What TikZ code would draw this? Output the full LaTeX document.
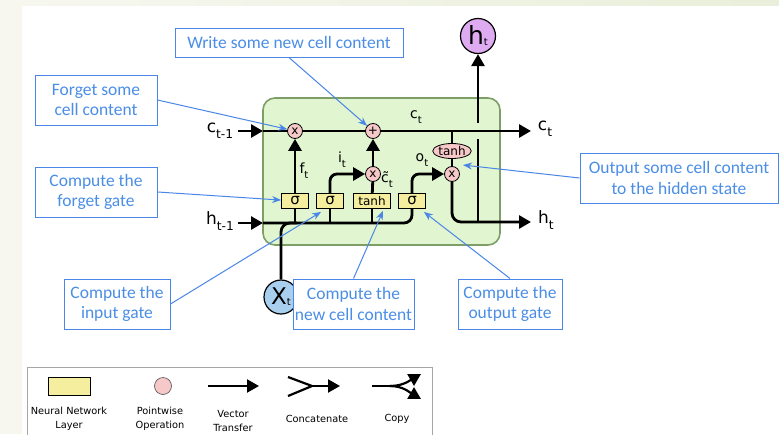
\documentclass[tikz,border=0pt]{standalone}
\usepackage{fontspec}
\setmainfont{DejaVu Sans}
\newfontfamily\calib{Carlito}
\usetikzlibrary{arrows.meta,shapes.geometric,calc}
\definecolor{cellgreen}{HTML}{E0F5D0}
\definecolor{cellborder}{HTML}{7E9E68}
\definecolor{gateyellow}{HTML}{F5EE9E}
\definecolor{oppink}{HTML}{F6C8C8}
\definecolor{htpurple}{HTML}{DEAAF0}
\definecolor{xtblue}{HTML}{A8D0EE}
\definecolor{calblue}{HTML}{4A86E8}
\definecolor{caltext}{HTML}{4A8EE6}
\definecolor{sidebg}{HTML}{F7F7F0}
\definecolor{topbg}{HTML}{E9EFDA}
\newcommand{\sbs}[2]{#1\raisebox{-0.35em}{\scalebox{0.72}{#2}}}
\begin{document}
\begin{tikzpicture}[x=1pt,y=-1pt,
  flow/.style={draw=black, line width=2.8pt},
  arr/.style={flow, -{Triangle[length=12pt,width=13pt]}},
  gate/.style={draw=black, fill=gateyellow, line width=0.8pt, minimum height=15pt, inner sep=0pt, font=\fontsize{12}{12}\selectfont},
  op/.style={circle, draw=black, fill=oppink, line width=0.8pt, minimum size=15pt, inner sep=0pt, font=\fontsize{12}{12}\selectfont},
  lab/.style={inner sep=0pt, font=\fontsize{17}{17}\selectfont},
  small/.style={inner sep=0pt, font=\fontsize{14}{14}\selectfont},
  callout/.style={draw=calblue, line width=1pt, text=caltext, fill=white, font=\calib\fontsize{17.5}{20.5}\selectfont, align=center, inner sep=0pt, minimum height=50pt},
  pointer/.style={draw=calblue, line width=1pt, -{Stealth[length=9pt,width=7pt]}},
  legtext/.style={inner sep=0pt, align=center, font=\fontsize{9.8}{14}\selectfont}
]
\useasboundingbox (0,0) rectangle (779,434);
% background
\fill[sidebg] (0,0) rectangle (779,434);
\shade[left color=sidebg, right color=topbg] (0,0) rectangle (779,6);
\fill[white] (22,6) rectangle (779,434);

% cell box
\node[draw=cellborder, fill=cellgreen, line width=1.6pt, rounded corners=12pt, minimum width=237pt, minimum height=147pt, inner sep=0pt] (cell) at (381.5,171.5) {};

% operations
\node[op] (mulf) at (295,131) {x};
\node[op] (plus) at (373,131) {+};
\node[op] (muli) at (373,174) {x};
\node[op] (mulo) at (452,174) {x};
\node[ellipse, draw=black, fill=oppink, line width=0.8pt, minimum width=35pt, minimum height=15pt, inner sep=0pt, font=\fontsize{12}{12}\selectfont] (tanhc) at (452,151) {tanh};

% gates
\node[gate, minimum width=27pt, font=\fontsize{15}{15}\selectfont] (sigf) at (295,201) {σ};
\node[gate, minimum width=27pt, font=\fontsize{15}{15}\selectfont] (sigi) at (330,201) {σ};
\node[gate, minimum width=37pt] (tanhg) at (372,201) {tanh};
\node[gate, minimum width=27pt, font=\fontsize{15}{15}\selectfont] (sigo) at (412,201) {σ};

% inputs / outputs
\node[circle, draw=black, fill=htpurple, line width=1.2pt, minimum size=35pt, inner sep=0pt] (ht) at (478,36) {\fontsize{25}{25}\selectfont h\raisebox{-1pt}{\fontsize{10}{10}\selectfont t}};
\node[circle, draw=black, fill=xtblue, line width=1.2pt, minimum size=34pt, inner sep=0pt] (xt) at (281,297) {\fontsize{23}{23}\selectfont X\raisebox{-1pt}{\fontsize{10}{10}\selectfont t}};

\node[lab] (ctin) at (220,131) {\sbs{c}{t-1}};
\node[lab] (htin) at (220,221) {\sbs{h}{t-1}};
\node[lab] (ctout) at (545,129) {\sbs{c}{t}};
\node[lab] (htout) at (546,220) {\sbs{h}{t}};

\coordinate (cin) at (238,131);
\coordinate (cl) at (263,131);
\coordinate (cend) at (531,131);
\coordinate (hin) at (238,223);
\coordinate (hl) at (263,223);
\coordinate (hend) at (531,222);
\coordinate (hv) at (478,222);
\coordinate (gapb) at (478,139);
\coordinate (gapt) at (478,123);

% c line
\draw[arr] (cin) -- (cl);
\draw[flow] (cl) -- (mulf);
\draw[flow] (mulf) -- (plus);
\draw[arr] (plus) -- (cend);
% h line
\draw[arr] (hin) -- (hl);
\draw[flow, rounded corners=8pt] (hl) -- (sigo.south |- hl) -- (sigo.south);
\draw[flow] (sigf.south) -- (sigf.south |- hl);
\draw[flow] (sigi.south) -- (sigi.south |- hl);
\draw[flow] (tanhg.south) -- (tanhg.south |- hl);
% x input
\draw[flow, rounded corners=9pt] (xt.north) |- ($(sigf.south |- hl)+(2,0)$);
% gates to ops
\draw[arr] (sigf) -- (mulf);
\draw[arr, rounded corners=7pt] (sigi.north) |- (muli.west);
\draw[flow] (tanhg) -- (muli);
\draw[arr] (muli) -- (plus);
\draw[arr, rounded corners=7pt] (sigo.north) |- (mulo.west);
\draw[flow] (tanhc |- plus) -- (tanhc);
\draw[flow] (tanhc) -- (mulo);
\draw[arr, rounded corners=9pt] (mulo.south) |- (hend);
\draw[flow] (hv) -- (gapb);
\draw[arr] (gapt) -- (ht.south);

% inner labels
\node[small] (lf) at (304,171) {\sbs{f}{t}};
\node[small] (li) at (342,160) {\sbs{i}{t}};
\node[small] (lo) at (422,160) {\sbs{o}{t}};
\node[small] (lc) at (387,180) {\sbs{c̃}{t}};
\node[small] (lct) at (416,117) {\sbs{c}{t}};

% callouts
\node[callout, minimum width=228pt, minimum height=29pt] (write) at (289,42.5) {Write some new cell content};
\node[callout, minimum width=122pt] (fcall) at (96,100) {Forget some\\cell content};
\node[callout, minimum width=122pt] (fgcall) at (96,192) {Compute the\\forget gate};
\node[callout, minimum width=198pt] (outcall) at (679,178) {Output some cell content\\to the hidden state};
\node[callout, minimum width=106pt] (incall) at (117,304) {Compute the\\input gate};
\node[callout, minimum width=121pt] (nccall) at (353.5,304) {Compute the\\new cell content};
\node[callout, minimum width=104pt] (ogcall) at (510,304) {Compute the\\output gate};
\coordinate (outtip) at (463,165);

\draw[pointer] (write.south) -- (plus);
\draw[pointer] (fcall.east) -- (mulf);
\draw[pointer] (fgcall.east) -- (sigf);
\draw[pointer] (outcall.west) -- (outtip);
\draw[pointer] (incall.east) -- ($(sigi.south west)+(5,3)$);
\draw[pointer] (nccall.north) -- ($(tanhg.south)+(11,2)$);
\draw[pointer] (ogcall.north) -- ($(sigo.south east)+(-2,3)$);

% legend
\draw[gray!70, line width=0.8pt] (27,440) -- (27,367) -- (432,367) -- (432,440);
\node[draw=black, fill=gateyellow, line width=0.8pt, minimum width=42pt, minimum height=18pt, inner sep=0pt] (lglayer) at (69,386) {};
\node[circle, draw=black!70, fill=oppink, line width=0.6pt, minimum size=17pt, inner sep=0pt] (lgop) at (163,386) {};
\coordinate (vtA) at (208,386);
\coordinate (vtB) at (259,386);
\draw[arr, line width=2.2pt] (vtA) -- (vtB);
\coordinate (ccA) at (288,377);
\coordinate (ccB) at (288,396);
\coordinate (ccM) at (312,386);
\coordinate (ccE) at (340,386);
\draw[flow, line width=2.2pt, line join=round] (ccA) -- (ccM) -- (ccB);
\draw[arr, line width=2.2pt] (ccM) -- (ccE);
\coordinate (cpA) at (372,386);
\coordinate (cpM) at (390,386);
\coordinate (cpT) at (421,374);
\coordinate (cpB) at (421,399);
\draw[flow, line width=2.2pt] (cpA) -- (cpM);
\draw[arr, line width=2.2pt] (cpM) to[out=0,in=210] (cpT);
\draw[arr, line width=2.2pt] (cpM) to[out=0,in=150] (cpB);
\node[legtext] (lt1) at (69,419) {Neural Network\\Layer};
\node[legtext] (lt2) at (160,419) {Pointwise\\Operation};
\node[legtext] (lt3) at (233,421) {Vector\\Transfer};
\node[legtext] (lt4) at (317,419) {Concatenate};
\node[legtext] (lt5) at (397,419) {Copy};
\end{tikzpicture}
\end{document}
